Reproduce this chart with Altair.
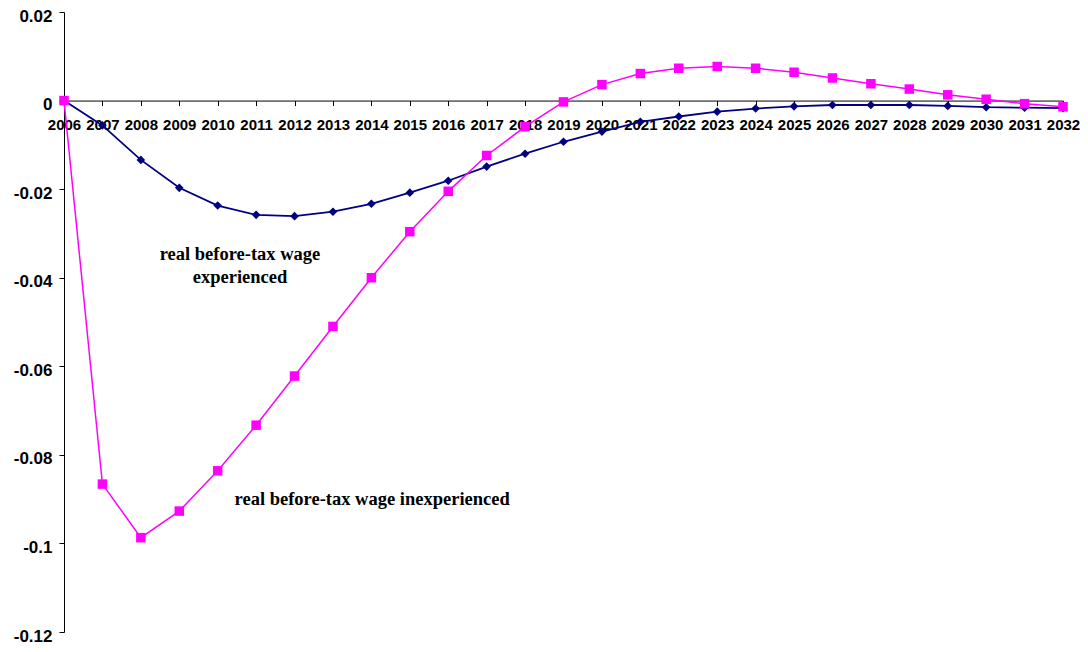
import altair as alt
import pandas as pd

years = list(range(2006, 2033))
experienced = [0.0, -0.0056, -0.0134, -0.0197, -0.0237, -0.0258, -0.0261, -0.0251, -0.0233,
               -0.0208, -0.0181, -0.0149, -0.0120, -0.0093, -0.0070, -0.0048, -0.0036,
               -0.0025, -0.0018, -0.0013, -0.0010, -0.0010, -0.0010, -0.0012, -0.0015,
               -0.0016, -0.0017]
inexperienced = [0.0, -0.0866, -0.0987, -0.0927, -0.0836, -0.0733, -0.0622, -0.0510, -0.0400,
                 -0.0296, -0.0205, -0.0124, -0.0059, -0.0003, 0.0036, 0.0061, 0.0073,
                 0.0077, 0.0073, 0.0064, 0.0051, 0.0038, 0.0026, 0.0013, 0.0003,
                 -0.0007, -0.0014]
y_ticks = [-0.12, -0.1, -0.08, -0.06, -0.04, -0.02, 0, 0.02]

ann_text = ["real before-tax wage\nexperienced", "real before-tax wage inexperienced"]
ann_year = [2010.58, 2014.02]
ann_value = [-0.0361, -0.0914]

YMIN, YMAX = -0.12, 0.02
W, H = 999, 620

df_exp = pd.DataFrame({"year": years, "value": experienced})
df_inx = pd.DataFrame({"year": years, "value": inexperienced})
df_ann = pd.DataFrame({"year": ann_year, "value": ann_value, "label": ann_text})

x_scale = alt.Scale(domain=[2006, 2032], nice=False, zero=False)
y_scale = alt.Scale(domain=[YMIN, YMAX], nice=False)

x_axis = alt.Axis(values=years, format="d", title=None, grid=False, orient="bottom",
                  offset=-(H * (0 - YMIN) / (YMAX - YMIN)),
                  labelFont="Liberation Sans", labelFontWeight="bold", labelFontSize=15,
                  labelColor="black", labelPadding=12, tickSize=5, tickColor="black",
                  domainColor="black", labelOverlap=False, labelFlush=False,
                  labelSeparation=0)
y_axis = alt.Axis(values=y_ticks, title=None, grid=False,
                  labelExpr="datum.value == 0 ? '0' : toString(round(datum.value*100)/100)",
                  labelFont="Liberation Sans", labelFontWeight="bold", labelFontSize=17,
                  labelColor="black", labelPadding=7, labelOffset=4, tickSize=5,
                  tickColor="black", domainColor="black")

x_enc = alt.X("year:Q", scale=x_scale, axis=x_axis)
y_enc = alt.Y("value:Q", scale=y_scale, axis=y_axis)

exp_line = alt.Chart(df_exp).mark_line(color="#000080", strokeWidth=1.8)
exp_pts = alt.Chart(df_exp).mark_point(shape="diamond", filled=True, color="#000080",
                                       size=75, opacity=1)
inx_line = alt.Chart(df_inx).mark_line(color="#FF00FF", strokeWidth=1.5)
inx_pts = alt.Chart(df_inx).mark_point(shape="square", filled=True, color="#FF00FF",
                                       size=90, opacity=1)
ann = alt.Chart(df_ann).mark_text(font="Liberation Serif", fontWeight="bold", fontSize=18.5,
                                  color="black", align="center", baseline="alphabetic",
                                  lineBreak="\n", lineHeight=23).encode(text="label:N")

chart = alt.layer(exp_line, exp_pts, inx_line, inx_pts, ann).encode(
    x=x_enc, y=y_enc
).properties(
    width=W, height=H,
    autosize=alt.AutoSizeParams(type="none"),
    padding={"left": 56, "top": 4, "right": 17, "bottom": 12},
    view=alt.ViewBackground(strokeWidth=0, strokeOpacity=0, fill="white"),
).configure(background="white").configure_view(strokeWidth=0, strokeOpacity=0)

chart.save("out.html", embed_options={"renderer": "svg", "actions": False})
